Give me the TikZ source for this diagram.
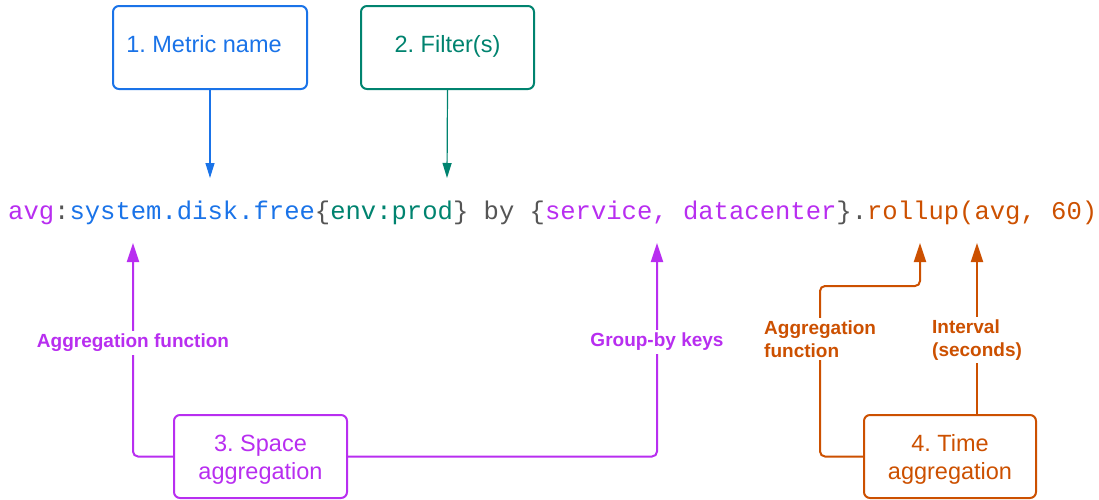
\documentclass[tikz,border=0pt]{standalone}
\usepackage{fontspec}
\setmainfont{Liberation Sans}
\newfontfamily\codefont{Liberation Mono}
\usetikzlibrary{arrows.meta}
\frenchspacing
\definecolor{cblue}{HTML}{1A73E8}
\definecolor{cgreen}{HTML}{00836F}
\definecolor{cpurple}{HTML}{B82EF0}
\definecolor{corange}{HTML}{CC5000}
\definecolor{cgray}{HTML}{555555}
\newcommand{\twolines}[2]{\raisebox{-23pt}[0pt][0pt]{\begin{tabular}[b]{@{}c@{}}#1\\#2\end{tabular}}}
\newcommand{\oneline}[1]{\raisebox{-5.2pt}[0pt][0pt]{#1}}
\tikzset{
  box/.style={draw, line width=2pt, rounded corners=6pt, minimum width=#1, minimum height=83pt, inner sep=0pt, align=center, font=\fontsize{23.5}{28}\selectfont\frenchspacing},
  box/.default=174pt,
  conn/.style={line width=2pt, rounded corners=5pt, -{Triangle[length=19pt,width=12pt]}},
  thin conn/.style={line width=1.2pt, -{Triangle[length=15pt,width=9pt]}},
  lbl/.style={font=\bfseries\fontsize{19}{23}\selectfont, fill=white, inner sep=3pt, align=left},
}
\begin{document}
\begin{tikzpicture}[x=1pt,y=-1pt]
\useasboundingbox (0,0) rectangle (1099,499);
% top boxes
\node[box=194pt, draw=cblue, text=cblue] (m) at (210,47.5) {\oneline{1. Metric name\kern12pt}};
\node[box=173pt, draw=cgreen, text=cgreen] (f) at (447.5,47.5) {\oneline{2. Filter(s)}};
% code line
\node[anchor=base west, inner sep=0pt, font=\codefont\fontsize{25.56}{30}\selectfont] (code) at (8,219)
 {\textcolor{cpurple}{avg}\textcolor{cgray}{:}\textcolor{cblue}{system.disk.free}\textcolor{cgray}{\{}\textcolor{cgreen}{env:prod}\textcolor{cgray}{\} by \{}\textcolor{cpurple}{service, datacenter}\textcolor{cgray}{\}.}\textcolor{corange}{rollup(avg, 60)}};
\coordinate (t1) at (210,178);
\coordinate (t2) at (447,178);
\draw[thin conn, cblue] (m.south) -- (t1);
\draw[thin conn, cgreen] (f.south) -- (t2);
% bottom boxes
\node[box=173pt, draw=cpurple, text=cpurple] (s) at (260.5,456.5) {\twolines{3. Space}{aggregation}};
\node[box=172pt, draw=corange, text=corange] (t) at (950,456.5) {\twolines{4. Time}{aggregation}};
\coordinate (t3) at (133,243);
\coordinate (t4) at (657,243);
\coordinate (k1) at (820,286);
\coordinate (t5) at (920,243);
\coordinate (t6) at (977,243);
\draw[conn, cpurple] (s.west) -| (t3);
\draw[conn, cpurple] (s.east) -| (t4);
\draw[conn, corange] (t.west) -| (k1) -| (t5);
\draw[conn, corange] (t6 |- t.north) -- (t6);
% labels
\node[lbl, text=cpurple] (l1) at (133,343) {Aggregation function};
\node[lbl, text=cpurple] (l2) at (657,342) {Group-by keys};
\node[lbl, text=corange, anchor=west] (l3) at (761,339) {Aggregation\\function};
\node[lbl, text=corange, anchor=west] (l4) at (929,340) {Interval\\(seconds)};
\end{tikzpicture}
\end{document}
